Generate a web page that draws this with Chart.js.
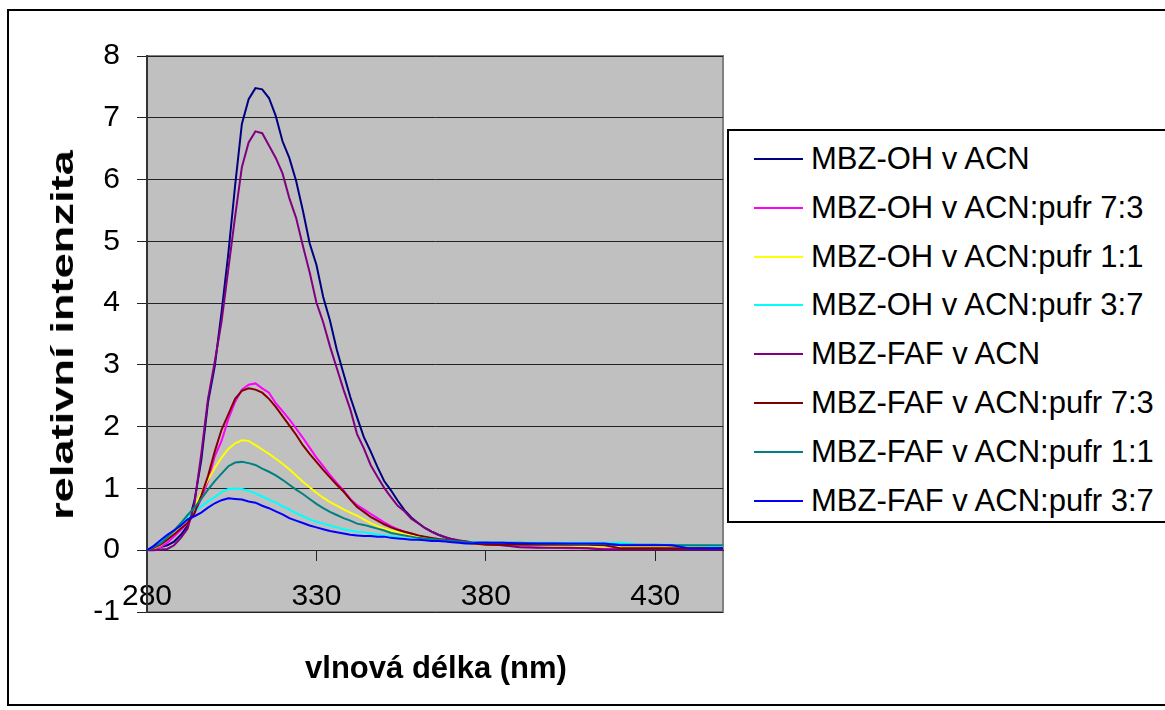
<!DOCTYPE html>
<html>
<head>
<meta charset="utf-8">
<script src="https://cdn.jsdelivr.net/npm/chart.js@4.4.1/dist/chart.umd.min.js"></script>
<style>
body{margin:0;width:1165px;height:710px;overflow:hidden;background:#fff;font-family:"Liberation Sans",Arial,sans-serif;}
#frame{position:absolute;left:7px;top:9px;width:1300px;height:697px;border:2px solid #000;box-sizing:border-box;}
#wrap{position:absolute;left:0;top:0;width:1165px;height:710px;}
#legend{position:absolute;left:727px;top:129px;width:520px;height:394px;border:2px solid #000;box-sizing:border-box;background:#fff;}
.item{position:absolute;left:0;height:30px;width:500px;}
.item .smp{position:absolute;left:25px;top:14px;width:49px;height:2px;}
.item .txt{position:absolute;left:82px;top:-1px;font-size:31px;line-height:31px;white-space:nowrap;color:#000;}
.ttl{position:absolute;font-weight:bold;font-size:31px;white-space:nowrap;color:#000;}
#ytitle{left:63px;top:335px;transform:translate(-50%,-50%) rotate(-90deg) scaleX(1.46);}
#xtitle{left:436px;top:668px;transform:translate(-50%,-50%);}
</style>
</head>
<body>
<div id="frame"></div>
<div id="wrap"><canvas id="myChart" width="1165" height="710"></canvas></div>
<div id="legend"></div>
<div class="ttl" id="ytitle">relativní intenzita</div>
<div class="ttl" id="xtitle">vlnová délka (nm)</div>
<script>
const wavelengths = [280,282,284,286,288,290,292,294,296,298,300,302,304,306,308,310,312,314,316,318,
  320,322,324,326,328,330,332,334,336,338,340,342,344,346,348,350,352,354,356,358,
  360,362,364,366,368,370,372,374,376,378,380,
  385,390,395,400,405,410,415,420,425,430,435,440,445,450];

const seriesNames = [
  "MBZ-OH v ACN",
  "MBZ-OH v ACN:pufr 7:3",
  "MBZ-OH v ACN:pufr 1:1",
  "MBZ-OH v ACN:pufr 3:7",
  "MBZ-FAF v ACN",
  "MBZ-FAF v ACN:pufr 7:3",
  "MBZ-FAF v ACN:pufr 1:1",
  "MBZ-FAF v ACN:pufr 3:7"
];
const seriesColors = ["#000080","#FF00FF","#FFFF00","#00FFFF","#800080","#800000","#008080","#0000FF"];

const ohACN = [0,0.02,0.05,0.08,0.14,0.25,0.40,0.80,1.45,2.39,2.98,3.85,4.80,5.90,6.90,7.30,7.48,7.46,7.32,7.03,
  6.62,6.35,5.98,5.50,4.97,4.62,4.10,3.72,3.25,2.86,2.48,2.15,1.83,1.60,1.35,1.12,0.97,0.80,0.65,0.53,
  0.44,0.36,0.30,0.25,0.21,0.18,0.15,0.14,0.13,0.12,0.12,
  0.11,0.10,0.10,0.09,0.09,0.08,0.08,0.07,0.07,0.06,0.06,0.05,0.05,0.05];
const oh73 = [0,0.02,0.05,0.12,0.22,0.33,0.44,0.60,0.83,1.12,1.52,1.77,2.12,2.40,2.60,2.68,2.70,2.62,2.55,2.38,
  2.25,2.12,1.97,1.82,1.66,1.50,1.36,1.22,1.09,0.97,0.83,0.73,0.66,0.59,0.52,0.45,0.39,0.34,0.30,0.27,
  0.24,0.21,0.18,0.17,0.16,0.15,0.14,0.13,0.12,0.11,0.10,
  0.08,0.06,0.05,0.04,0.03,0.03,0.02,0.02,0.02,0.02,0.02,0.02,0.02,0.02];
const oh11 = [0,0.03,0.08,0.18,0.28,0.40,0.52,0.70,0.92,1.14,1.33,1.50,1.64,1.73,1.78,1.77,1.70,1.63,1.56,1.48,
  1.40,1.31,1.21,1.11,1.02,0.93,0.85,0.78,0.72,0.66,0.61,0.56,0.50,0.44,0.39,0.35,0.32,0.29,0.26,0.24,
  0.22,0.20,0.18,0.17,0.15,0.14,0.13,0.12,0.11,0.10,0.10,
  0.09,0.08,0.08,0.07,0.07,0.07,0.06,0.06,0.06,0.06,0.05,0.05,0.05,0.05];
const oh37 = [0,0.05,0.13,0.22,0.31,0.41,0.54,0.63,0.71,0.79,0.86,0.94,0.99,1.00,0.99,0.96,0.92,0.87,0.82,0.77,
  0.71,0.66,0.60,0.55,0.50,0.46,0.43,0.40,0.37,0.34,0.32,0.30,0.29,0.27,0.26,0.24,0.23,0.21,0.19,0.18,
  0.17,0.17,0.16,0.16,0.15,0.15,0.14,0.13,0.13,0.12,0.12,
  0.12,0.12,0.12,0.12,0.12,0.12,0.12,0.12,0.09,0.09,0.09,0.08,0.08,0.04];
const fafACN = [0,0,0.01,0.02,0.08,0.20,0.35,0.75,1.55,2.45,3.05,3.70,4.55,5.40,6.20,6.60,6.78,6.75,6.55,6.35,
  6.10,5.70,5.38,4.93,4.50,4.01,3.69,3.30,2.95,2.60,2.28,1.88,1.65,1.38,1.19,1.01,0.86,0.72,0.63,0.51,
  0.44,0.36,0.30,0.25,0.21,0.18,0.16,0.14,0.12,0.11,0.10,
  0.08,0.05,0.04,0.04,0.04,0.03,0.01,0.01,0.01,0.01,0.01,0.01,0.01,0.01];
const faf73 = [0,0.04,0.09,0.17,0.26,0.35,0.44,0.60,0.88,1.20,1.60,1.95,2.20,2.45,2.58,2.62,2.60,2.55,2.45,2.32,
  2.17,2.02,1.87,1.70,1.56,1.43,1.30,1.18,1.06,0.95,0.82,0.70,0.62,0.54,0.48,0.42,0.37,0.33,0.30,0.27,
  0.24,0.22,0.20,0.18,0.17,0.15,0.14,0.12,0.11,0.10,0.09,
  0.09,0.09,0.09,0.09,0.09,0.09,0.08,0.03,0.03,0.03,0.03,0.03,0.03,0.03];
const faf11 = [0,0.05,0.11,0.21,0.32,0.44,0.57,0.69,0.83,0.98,1.12,1.24,1.36,1.42,1.43,1.41,1.38,1.32,1.27,1.21,
  1.14,1.06,0.98,0.91,0.83,0.75,0.68,0.62,0.57,0.52,0.48,0.43,0.41,0.38,0.35,0.32,0.28,0.26,0.24,0.22,
  0.20,0.19,0.18,0.17,0.16,0.15,0.14,0.13,0.12,0.12,0.12,
  0.12,0.12,0.11,0.11,0.10,0.10,0.10,0.09,0.09,0.09,0.08,0.08,0.08,0.08];
const faf37 = [0,0.07,0.16,0.25,0.32,0.40,0.50,0.55,0.61,0.69,0.76,0.81,0.84,0.83,0.82,0.79,0.77,0.72,0.68,0.63,
  0.58,0.52,0.48,0.44,0.40,0.37,0.34,0.31,0.29,0.27,0.25,0.24,0.23,0.23,0.22,0.22,0.20,0.19,0.18,0.17,
  0.17,0.16,0.15,0.15,0.14,0.13,0.12,0.11,0.11,0.12,0.12,
  0.12,0.11,0.11,0.11,0.11,0.11,0.11,0.08,0.08,0.08,0.08,0.03,0.03,0.03];

const seriesValues = [ohACN, oh73, oh11, oh37, fafACN, faf73, faf11, faf37];
const xTicks = [280, 330, 380, 430];
const yTicks = [-1, 0, 1, 2, 3, 4, 5, 6, 7, 8];

const plotBg = {
  id: 'plotBg',
  beforeDraw(chart) {
    const {ctx, chartArea: a} = chart;
    ctx.save();
    ctx.fillStyle = '#c0c0c0';
    ctx.fillRect(a.left, a.top, a.right - a.left, a.bottom - a.top);
    ctx.strokeStyle = '#808080';
    ctx.lineWidth = 2;
    ctx.strokeRect(a.left, a.top, a.right - a.left, a.bottom - a.top);
    ctx.restore();
  }
};

const datasets = seriesNames.map((name, i) => ({
  label: name,
  data: wavelengths.map((w, j) => ({x: w, y: seriesValues[i][j]})),
  borderColor: seriesColors[i],
  backgroundColor: seriesColors[i],
  borderWidth: 2,
  pointRadius: 0,
  tension: 0,
  order: seriesNames.length - i
}));

const font = {family: '"Liberation Sans", Arial, sans-serif', size: 30};

const myChart = new Chart(document.getElementById('myChart'), {
  type: 'line',
  data: {datasets: datasets},
  plugins: [plotBg],
  options: {
    responsive: false,
    animation: false,
    layout: {padding: {left: 0, top: 56, right: 442, bottom: 98}},
    plugins: {legend: {display: false}, tooltip: {enabled: false}},
    scales: {
      x: {
        type: 'linear',
        position: {y: 0},
        min: 280,
        max: 450,
        afterBuildTicks: s => { s.ticks = xTicks.map(v => ({value: v})); },
        grid: {drawOnChartArea: false, drawTicks: true, tickLength: 10, color: '#222'},
        border: {display: true, color: '#222', width: 1},
        ticks: {color: '#000', font: font, padding: 19, maxRotation: 0, autoSkip: false}
      },
      y: {
        min: -1,
        max: 8,
        afterBuildTicks: s => { s.ticks = yTicks.map(v => ({value: v})); },
        afterFit: s => { s.width = 147; },
        grid: {color: '#222', tickLength: 10, lineWidth: 1},
        border: {display: true, color: '#333', width: 2},
        ticks: {color: '#000', font: font, padding: 17}
      }
    }
  }
});

const legendBox = document.getElementById('legend');
myChart.data.datasets.forEach((ds, i) => {
  const row = document.createElement('div');
  row.className = 'item';
  row.style.top = (28 + i * 48.8 - 15) + 'px';
  const smp = document.createElement('span');
  smp.className = 'smp';
  smp.style.background = ds.borderColor;
  const txt = document.createElement('span');
  txt.className = 'txt';
  txt.textContent = ds.label;
  row.appendChild(smp);
  row.appendChild(txt);
  legendBox.appendChild(row);
});
</script>
</body>
</html>
